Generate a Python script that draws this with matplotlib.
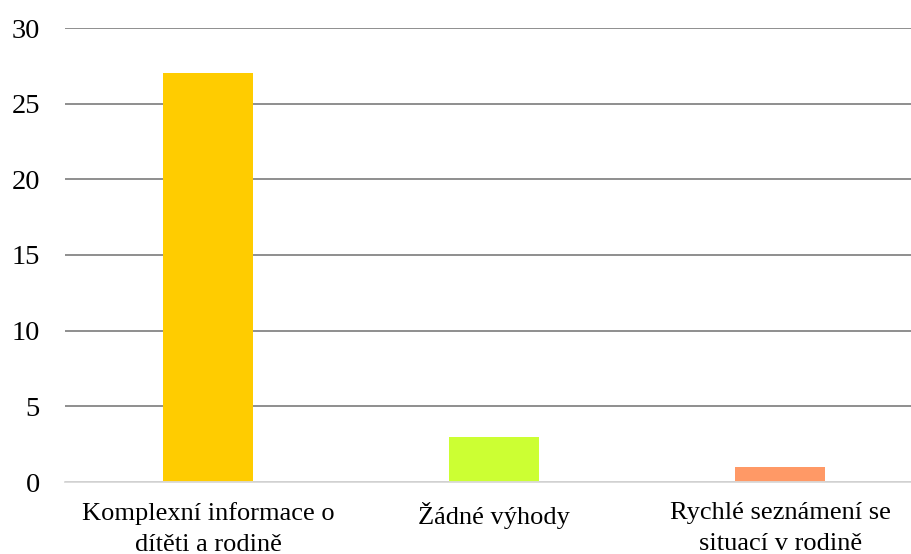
import matplotlib
matplotlib.use("Agg")
import matplotlib.pyplot as plt

categories = ["Komplexní informace o\ndítěti a rodině",
              "Žádné výhody",
              "Rychlé seznámení se\nsituací v rodině"]
values = [27, 3, 1]
colors = ["#FFCC00", "#CCFF33", "#FF9966"]
yticks = [0, 5, 10, 15, 20, 25, 30]

plt.rcParams['font.family'] = ['Liberation Serif', 'DejaVu Serif']

fig = plt.figure(figsize=(9.12, 5.54), dpi=100)
ax = fig.add_axes([65/912, 1-482/554, 1-65/912, (482-28)/554])

x = list(range(len(categories)))
ax.bar(x, values, width=0.315, color=colors, zorder=3)

ax.set_ylim(0, 30)
ax.set_xlim(-0.5, 2.46)
ax.set_yticks(yticks)
ax.set_xticks(x)
ax.set_xticklabels(categories, fontsize=19, linespacing=1.5)
ax.tick_params(axis='y', labelsize=20.5, length=0, pad=18)
ax.tick_params(axis='x', length=0, pad=14.5)
ax.grid(axis='y', color='#868686', linewidth=1.3, zorder=0)
for s in ['top', 'right', 'left']:
    ax.spines[s].set_visible(False)
ax.spines['bottom'].set_color('#d9d9d9')
ax.spines['bottom'].set_linewidth(1.3)
ax.spines['bottom'].set_zorder(4)

fig.savefig("out.png", dpi=100)
